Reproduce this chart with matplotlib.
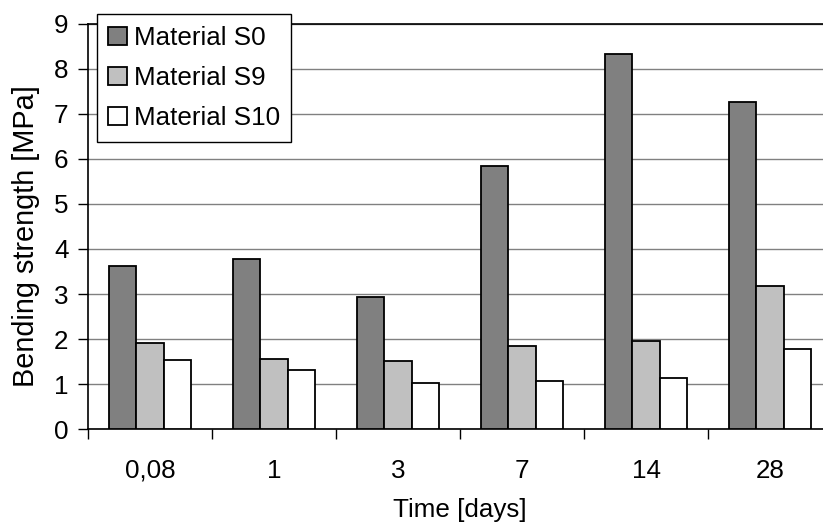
import matplotlib
matplotlib.use("Agg")
import matplotlib.pyplot as plt
import numpy as np

categories = ["0,08", "1", "3", "7", "14", "28"]
series_names = ["Material S0", "Material S9", "Material S10"]
s0 = [3.62, 3.77, 2.93, 5.85, 8.32, 7.25]
s9 = [1.91, 1.55, 1.51, 1.85, 1.96, 3.19]
s10 = [1.53, 1.31, 1.03, 1.08, 1.14, 1.79]
colors = ["#808080", "#C0C0C0", "#FFFFFF"]

plt.rcParams['font.family'] = ['Liberation Sans', 'DejaVu Sans']
FS = 18.7

fig = plt.figure(figsize=(8.23, 5.25), dpi=100)
ax = fig.add_axes([88/823, 1-429.4/525, 744/823, (429.4-23.5)/525])

x = np.arange(len(categories))
w = 1/4.5
for j, (vals, name, c) in enumerate(zip([s0, s9, s10], series_names, colors)):
    ax.bar(x + (j-1)*w, vals, width=w, color=c, edgecolor='black',
           linewidth=1.3, label=name, zorder=3)

ax.set_xlim(-0.5, len(categories)-0.5)
ax.set_ylim(0, 9)
ax.set_yticks(range(0, 10))
ax.yaxis.grid(True, color='#808080', linewidth=1.0)
ax.set_axisbelow(True)

ax.set_xticks(np.arange(len(categories)+1) - 0.5)
ax.set_xticklabels([])
ax.set_xticks(x, minor=True)
ax.set_xticklabels(categories, minor=True, fontsize=FS)
ax.tick_params(axis='x', which='major', direction='out', length=7, width=1.0, color='black')
ax.tick_params(axis='x', which='minor', length=0, pad=21)
ax.tick_params(axis='y', direction='out', length=7, width=1.0, color='black',
               labelsize=FS, pad=7)

ax.spines['right'].set_visible(False)
ax.spines['top'].set_color('black')
ax.spines['top'].set_linewidth(1.2)
ax.spines['left'].set_linewidth(1.2)
ax.spines['bottom'].set_linewidth(1.2)

fig.text(460/823, 1-517.5/525, "Time [days]", ha='center', va='baseline',
         fontsize=FS)
fig.text(26/823, 1-236.5/525, "Bending strength [MPa]", rotation=90,
         ha='center', va='center', fontsize=20.8)

leg = ax.legend(loc='upper left', bbox_to_anchor=(96.7/823, 1-14/525),
                bbox_transform=fig.transFigure, fontsize=FS, frameon=True,
                fancybox=False, edgecolor='black', framealpha=1,
                handlelength=0.7, handleheight=0.7, handletextpad=0.27,
                labelspacing=0.62, borderpad=0.45, borderaxespad=0)
leg.get_frame().set_linewidth(1.0)

fig.savefig("out.png", dpi=100)
